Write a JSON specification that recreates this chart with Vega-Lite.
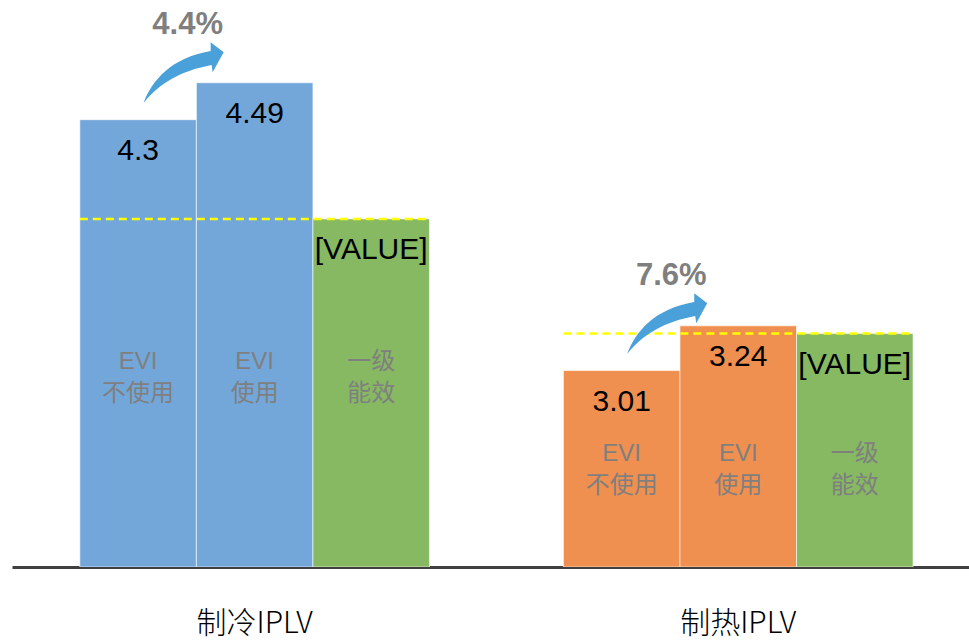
{
  "$schema": "https://vega.github.io/schema/vega-lite/v6.json",
  "width": 957,
  "height": 564,
  "autosize": {"type": "none"},
  "padding": {"left": 12, "top": 3, "right": 0, "bottom": 73},
  "background": "white",
  "config": {"view": {"stroke": null}},
  "datasets": {
    "bars": [
      {"group": "制冷IPLV", "series": "EVI\n不使用", "value": 4.3, "label": "4.3"},
      {"group": "制冷IPLV", "series": "EVI\n使用", "value": 4.49, "label": "4.49"},
      {"group": "制冷IPLV", "series": "一级\n能效", "value": 3.79, "label": "[VALUE]"},
      {"group": "制热IPLV", "series": "EVI\n不使用", "value": 3.01, "label": "3.01"},
      {"group": "制热IPLV", "series": "EVI\n使用", "value": 3.24, "label": "3.24"},
      {"group": "制热IPLV", "series": "一级\n能效", "value": 3.2, "label": "[VALUE]"}
    ],
    "notes": [
      {"group": "制冷IPLV", "pct": "4.4%", "from": 4.3},
      {"group": "制热IPLV", "pct": "7.6%", "from": 3.01}
    ]
  },
  "layer": [
    {
      "data": {"name": "bars"},
      "mark": {"type": "bar", "clip": true, "stroke": "#ffffff", "strokeWidth": 1, "strokeOpacity": 0.6},
      "encoding": {
        "x": {
          "field": "group", "type": "nominal", "sort": null,
          "scale": {"paddingInner": 0.277, "paddingOuter": 0.128, "align": 0.548},
          "axis": {
            "title": null, "ticks": false, "labelAngle": 0,
            "domainColor": "#404040", "domainWidth": 3,
            "labelPadding": 56, "labelBaseline": "middle",
            "labelFont": "Noto Sans CJK SC", "labelFontWeight": 300, "labelFontSize": 30, "labelColor": "#000000"
          }
        },
        "xOffset": {"field": "series", "type": "nominal", "sort": null, "scale": {"paddingInner": 0, "paddingOuter": 0}},
        "y": {"field": "value", "type": "quantitative", "scale": {"domain": [2, 4.9], "nice": false, "zero": false}, "axis": null},
        "y2": {"datum": 2},
        "color": {
          "condition": [
            {"test": "datum.series === '一级\\n能效'", "value": "#86B962"},
            {"test": "datum.group === '制冷IPLV'", "value": "#73A7DA"}
          ],
          "value": "#F09050"
        }
      }
    },
    {
      "data": {"name": "bars"},
      "transform": [{"filter": "datum.series === '一级\\n能效'"}],
      "mark": {"type": "rule", "color": "#FFFF00", "strokeWidth": 2.5, "strokeDash": [8, 5]},
      "encoding": {
        "x": {"field": "group", "type": "nominal", "sort": null, "bandPosition": 0},
        "x2": {"field": "group", "bandPosition": 1},
        "y": {"field": "value", "type": "quantitative"}
      }
    },
    {
      "data": {"name": "bars"},
      "mark": {"type": "text", "baseline": "middle", "align": "center", "dy": 31, "fontSize": 30, "font": "Liberation Sans", "color": "#000000"},
      "encoding": {
        "x": {"field": "group", "type": "nominal", "sort": null},
        "xOffset": {"field": "series", "type": "nominal", "sort": null},
        "y": {"field": "value", "type": "quantitative"},
        "text": {"field": "label"}
      }
    },
    {
      "data": {"name": "bars"},
      "transform": [{"filter": "datum.group === '制冷IPLV'"}],
      "mark": {"type": "text", "baseline": "middle", "align": "center", "lineBreak": "\n", "lineHeight": 32, "fontSize": 24, "font": "Liberation Sans, Noto Sans CJK SC", "color": "#7F7F7F"},
      "encoding": {
        "x": {"field": "group", "type": "nominal", "sort": null},
        "xOffset": {"field": "series", "type": "nominal", "sort": null},
        "y": {"datum": 3.054, "type": "quantitative"},
        "text": {"field": "series"}
      }
    },
    {
      "data": {"name": "bars"},
      "transform": [{"filter": "datum.group === '制热IPLV'"}],
      "mark": {"type": "text", "baseline": "middle", "align": "center", "lineBreak": "\n", "lineHeight": 32, "fontSize": 24, "font": "Liberation Sans, Noto Sans CJK SC", "color": "#7F7F7F"},
      "encoding": {
        "x": {"field": "group", "type": "nominal", "sort": null},
        "xOffset": {"field": "series", "type": "nominal", "sort": null},
        "y": {"datum": 2.581, "type": "quantitative"},
        "text": {"field": "series"}
      }
    },
    {
      "data": {"name": "notes"},
      "mark": {
        "type": "point", "filled": true, "opacity": 1, "color": "#4AA1DA", "size": 6400,
        "shape": "M -1 0.76 C -0.8 0.2 -0.3 -0.38 0.675 -0.54 L 0.675 -0.76 L 1 -0.51 L 0.725 -0.01 L 0.7 -0.19 C -0.05 -0.05 -0.6 0.25 -1 0.76 Z",
        "xOffset": -71, "yOffset": -47
      },
      "encoding": {
        "x": {"field": "group", "type": "nominal", "sort": null},
        "y": {"field": "from", "type": "quantitative"}
      }
    },
    {
      "data": {"name": "notes"},
      "mark": {"type": "text", "baseline": "middle", "align": "center", "dx": -67, "dy": -95, "fontSize": 31, "fontWeight": "bold", "font": "Liberation Sans", "color": "#7F7F7F"},
      "encoding": {
        "x": {"field": "group", "type": "nominal", "sort": null},
        "y": {"field": "from", "type": "quantitative"},
        "text": {"field": "pct"}
      }
    }
  ]
}
